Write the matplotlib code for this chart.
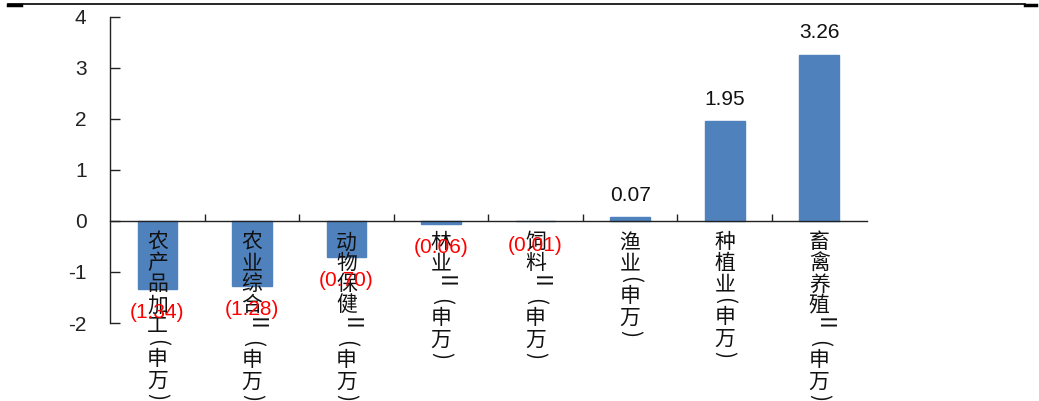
import matplotlib
matplotlib.use("Agg")
import matplotlib.pyplot as plt
import matplotlib.transforms as mtransforms
from matplotlib.lines import Line2D

plt.rcParams['font.family'] = ['Liberation Sans', 'Noto Sans CJK SC', 'DejaVu Sans']

categories = ["农产品加工(申万)", "农业综合Ⅱ(申万)", "动物保健Ⅱ(申万)", "林业Ⅱ(申万)",
              "饲料Ⅱ(申万)", "渔业(申万)", "种植业(申万)", "畜禽养殖Ⅱ(申万)"]
values = [-1.34, -1.28, -0.70, -0.06, -0.01, 0.07, 1.95, 3.26]
yticks = [-2, -1, 0, 1, 2, 3, 4]

bar_color = "#4F81BD"

fig = plt.figure(figsize=(10.39, 4.01), dpi=100)
ax = fig.add_axes([0.106, 0.1945, 0.728, 0.7635])

x = list(range(len(categories)))
ax.bar(x, values, width=0.42, color=bar_color, edgecolor=bar_color, linewidth=1.0, zorder=2)

ax.set_xlim(-0.5, 7.5)
ax.set_ylim(-2, 4)
ax.set_yticks(yticks)
ax.set_yticklabels([str(t) for t in yticks], fontsize=15)
ax.tick_params(axis='y', direction='in', length=7, width=1, pad=17, colors='#222222')
ax.set_xticks([i + 0.5 for i in range(len(categories) - 1)])
ax.set_xticklabels([])
ax.tick_params(axis='x', direction='in', length=5, width=1, colors='#222222')

for s in ['top', 'right']:
    ax.spines[s].set_visible(False)
ax.spines['bottom'].set_position(('data', 0))
ax.spines['left'].set_color('#222222')
ax.spines['bottom'].set_color('#222222')
ax.spines['left'].set_linewidth(1.0)
ax.spines['bottom'].set_linewidth(1.0)

# value labels: negatives in red brackets below the bar end
for xi, v in zip(x, values):
    if v >= 0:
        ax.annotate(f"{v:.2f}", (xi, v), xytext=(0, 16), textcoords='offset points',
                    ha='center', va='center', fontsize=15, color='#111111', zorder=5)
    else:
        ax.annotate(f"({abs(v):.2f})", (xi, v), xytext=(0, -17), textcoords='offset points',
                    ha='center', va='center', fontsize=15, color='#FF0000', zorder=5)

# vertical category labels, stacked one character at a time
advance = {'(': 12, ')': 12, 'Ⅱ': 22}
trans = mtransforms.blended_transform_factory(ax.transData, ax.transData)
for xi, label in zip(x, categories):
    cursor = 11
    for ch in label:
        a = advance.get(ch, 21)
        off = mtransforms.offset_copy(trans, fig=fig, x=0, y=-(cursor + a / 2), units='dots')
        rot = -90 if ch in advance else 0
        ax.text(xi, 0, ch, transform=off, ha='center', va='center', rotation=rot,
                fontsize=15, color='#111111', family=['Noto Sans CJK SC', 'DejaVu Sans'],
                zorder=4, clip_on=False)
        cursor += a

# top border rule
fig.add_artist(Line2D([0.008, 0.987], [0.989, 0.989], color='black', lw=1.2, transform=fig.transFigure))
fig.add_artist(Line2D([0.008, 0.02], [0.987, 0.987], color='black', lw=2.5, transform=fig.transFigure))
fig.add_artist(Line2D([0.987, 0.997], [0.987, 0.987], color='black', lw=2.5, transform=fig.transFigure))

fig.savefig("out.png", dpi=100, facecolor='white')
